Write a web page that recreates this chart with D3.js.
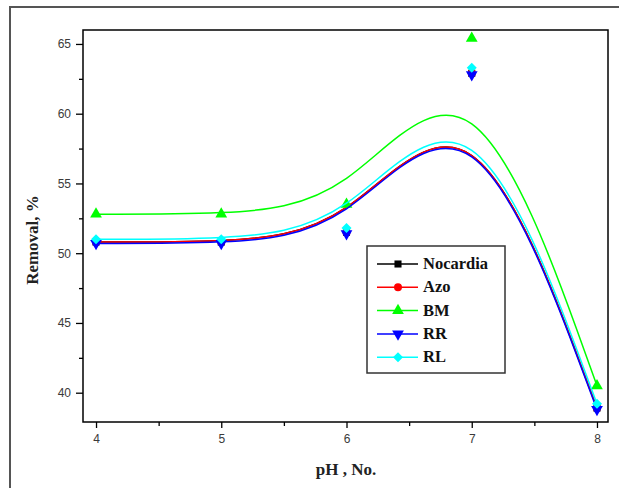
<!DOCTYPE html>
<html>
<head>
<meta charset="utf-8">
<script src="https://cdn.jsdelivr.net/npm/d3@7"></script>
<style>
  body { margin: 0; background: #fff; }
  svg { display: block; }
</style>
</head>
<body>
<div id="root"></div>
<script>
const svgWidth = 619;
const svgHeight = 488;

// data
const pH = [4, 5, 6, 7, 8];
const nocardia = [50.8, 50.8, 51.5, 62.9, 38.9];
const azo = [50.8, 50.8, 51.5, 62.9, 38.9];
const bm = [52.8, 52.8, 53.5, 65.4, 40.5];
const rr = [50.7, 50.7, 51.4, 62.8, 38.8];
const rl = [51.0, 51.0, 51.8, 63.3, 39.2];

const seriesNames = ["Nocardia", "Azo", "BM", "RR", "RL"];
const seriesValues = [nocardia, azo, bm, rr, rl];
const seriesColors = ["#000000", "#ff0000", "#00ff00", "#0000ff", "#00ffff"];
const seriesSymbols = [d3.symbolSquare, d3.symbolCircle, d3.symbolTriangle, d3.symbolTriangle, d3.symbolSquare];
const symbolSizes = [50, 50, 60, 60, 50];
const symbolRotate = [0, 0, 0, 180, 45];

const xTicks = [4, 5, 6, 7, 8];
const xMinor = [4.5, 5.5, 6.5, 7.5];
const yTicks = [40, 45, 50, 55, 60, 65];
const yMinor = [42.5, 47.5, 52.5, 57.5, 62.5];

const plot = { left: 83, top: 30, right: 608, bottom: 422 };

const xScale = d3.scaleLinear()
      .domain([3.896, 8.088])
      .range([plot.left, plot.right]);

const yScale = d3.scaleLinear()
      .domain([37.9, 66.0])
      .range([plot.bottom, plot.top]);

const mainSvg = d3.select("#root")
      .append("svg")
      .attr("width", svgWidth)
      .attr("height", svgHeight);

mainSvg.append("rect")
  .attr("width", svgWidth)
  .attr("height", svgHeight)
  .attr("fill", "#fff");

// outer frame
mainSvg.append("rect")
  .attr("x", 10).attr("y", 7)
  .attr("width", 640).attr("height", 520)
  .attr("fill", "none")
  .attr("stroke", "#555")
  .attr("stroke-width", 2);

// axes
const xAxis = d3.axisBottom(xScale)
  .tickValues(xTicks)
  .tickSize(6)
  .tickPadding(6)
  .tickFormat(d3.format("d"));

const yAxis = d3.axisLeft(yScale)
  .tickValues(yTicks)
  .tickSize(7)
  .tickPadding(5)
  .tickFormat(d3.format("d"));

mainSvg.append("g")
  .attr("transform", `translate(0,${plot.bottom})`)
  .call(xAxis);

mainSvg.append("g")
  .attr("transform", `translate(${plot.left},0)`)
  .call(yAxis);

// minor ticks
mainSvg.append("g")
  .attr("transform", `translate(0,${plot.bottom})`)
  .call(d3.axisBottom(xScale).tickValues(xMinor).tickSize(4).tickFormat(""));
mainSvg.append("g")
  .attr("transform", `translate(${plot.left},0)`)
  .call(d3.axisLeft(yScale).tickValues(yMinor).tickSize(4).tickFormat(""));

mainSvg.selectAll(".domain").remove();
mainSvg.selectAll(".tick line").attr("stroke", "#000").attr("stroke-width", 1.3);
mainSvg.selectAll(".tick text")
  .attr("font-family", "Arial, 'Liberation Sans', sans-serif")
  .attr("font-size", "12px")
  .attr("fill", "#3a3a3a");

// plot frame
mainSvg.append("rect")
  .attr("x", plot.left).attr("y", plot.top)
  .attr("width", plot.right - plot.left)
  .attr("height", plot.bottom - plot.top)
  .attr("fill", "none")
  .attr("stroke", "#000")
  .attr("stroke-width", 1.5);

// axis titles
mainSvg.append("text")
  .attr("transform", `translate(38,240) rotate(-90)`)
  .attr("text-anchor", "middle")
  .attr("font-family", "'Liberation Serif', 'Times New Roman', serif")
  .attr("font-weight", "bold")
  .attr("font-size", "17px")
  .attr("fill", "#222")
  .text("Removal, %");

mainSvg.append("text")
  .attr("x", 346)
  .attr("y", 475)
  .attr("text-anchor", "middle")
  .attr("font-family", "'Liberation Serif', 'Times New Roman', serif")
  .attr("font-weight", "bold")
  .attr("font-size", "17px")
  .attr("fill", "#222")
  .text("pH , No.");

// curves (B-spline through data) and markers
const line = d3.line()
  .x((d, i) => xScale(pH[i]))
  .y(d => yScale(d))
  .curve(d3.curveBasis);

seriesValues.forEach((vals, s) => {
  const g = mainSvg.append("g");
  g.append("path")
    .attr("d", line(vals))
    .attr("fill", "none")
    .attr("stroke", seriesColors[s])
    .attr("stroke-width", 1.5);

  g.selectAll("path.mark")
    .data(vals)
    .join("path")
    .attr("class", "mark")
    .attr("d", d3.symbol().type(seriesSymbols[s]).size(symbolSizes[s]))
    .attr("transform", (d, i) => `translate(${xScale(pH[i])},${yScale(d)}) rotate(${symbolRotate[s]})`)
    .attr("fill", seriesColors[s]);
});

// legend
const legend = mainSvg.append("g");
legend.append("rect")
  .attr("x", 367).attr("y", 246)
  .attr("width", 138).attr("height", 127)
  .attr("fill", "#fff")
  .attr("stroke", "#333")
  .attr("stroke-width", 1.5);

seriesNames.forEach((name, s) => {
  const y = 264 + s * 23.3;
  legend.append("line")
    .attr("x1", 377).attr("x2", 418)
    .attr("y1", y).attr("y2", y)
    .attr("stroke", seriesColors[s])
    .attr("stroke-width", 1.5);
  legend.append("path")
    .attr("d", d3.symbol().type(seriesSymbols[s]).size(symbolSizes[s]))
    .attr("transform", `translate(398,${y}) rotate(${symbolRotate[s]})`)
    .attr("fill", seriesColors[s]);
  legend.append("text")
    .attr("x", 423)
    .attr("y", y + 5)
    .attr("font-family", "'Liberation Serif', 'Times New Roman', serif")
    .attr("font-weight", "bold")
    .attr("font-size", "16.5px")
    .attr("fill", "#111")
    .text(name);
});
</script>
</body>
</html>
